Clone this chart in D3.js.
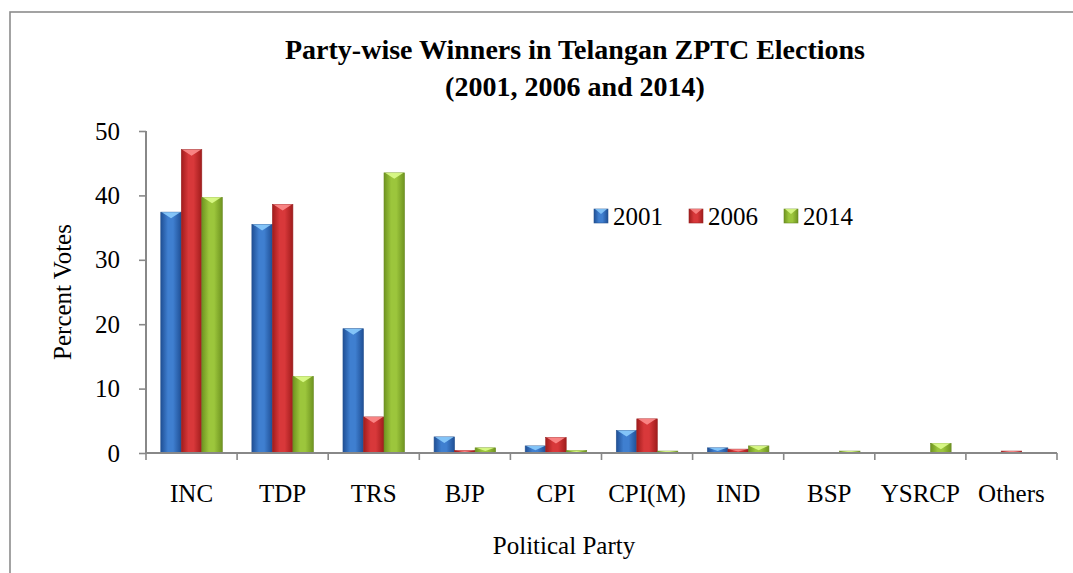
<!DOCTYPE html>
<html><head><meta charset="utf-8">
<script src="https://cdn.jsdelivr.net/npm/d3@7"></script>
<style>
html,body{margin:0;padding:0;background:#fff;}
</style></head>
<body>
<svg id="chart" width="1073" height="573"></svg>
<script>
const categories = ["INC","TDP","TRS","BJP","CPI","CPI(M)","IND","BSP","YSRCP","Others"];
const years = ["2001","2006","2014"];
const v2001 = [37.4, 35.5, 19.3, 2.5, 1.1, 3.5, 0.8, 0, 0, 0];
const v2006 = [47.1, 38.6, 5.6, 0.4, 2.4, 5.3, 0.6, 0, 0, 0.3];
const v2014 = [39.7, 11.9, 43.5, 0.8, 0.4, 0.3, 1.1, 0.3, 1.5, 0];
const yTicks = [0, 10, 20, 30, 40, 50];
const titleLines = ["Party-wise Winners in Telangan ZPTC Elections", "(2001, 2006 and 2014)"];

const FONT = "'Liberation Serif','Times New Roman','DejaVu Serif',serif";
const seriesValues = [v2001, v2006, v2014];
const colors = {
  "2001": {dark:"#1f4f95", mid:"#3f7fd0", top:"#8fd0ff", stroke:"#2a5590"},
  "2006": {dark:"#a01c1c", mid:"#d8383a", top:"#ff9090", stroke:"#9a2525"},
  "2014": {dark:"#6f9420", mid:"#9cc63c", top:"#e0ff90", stroke:"#6a8a25"}
};

const svg = d3.select("#chart");
const defs = svg.append("defs");
years.forEach(yr => {
  const c = colors[yr];
  const g = defs.append("linearGradient").attr("id","g"+yr).attr("x1","0").attr("x2","1").attr("y1","0").attr("y2","0");
  g.append("stop").attr("offset","0%").attr("stop-color",c.dark);
  g.append("stop").attr("offset","35%").attr("stop-color",c.mid);
  g.append("stop").attr("offset","60%").attr("stop-color",c.mid);
  g.append("stop").attr("offset","100%").attr("stop-color",c.dark);
});

// frame
svg.append("rect").attr("x",10).attr("y",12).attr("width",1100).attr("height",600)
  .attr("fill","none").attr("stroke","#8c8c8c").attr("stroke-width",1.6);

const plotLeft = 146, plotRight = 1057, plotTop = 131, plotBottom = 453;
const x0 = d3.scaleBand().domain(categories).range([plotLeft, plotRight]).padding(0);
const x1 = d3.scaleBand().domain(years).range([0, x0.bandwidth()]).paddingInner(0).paddingOuter(0.72);
const y = d3.scaleLinear().domain([0, 50]).range([plotBottom, plotTop]);

// title
svg.append("text").attr("x",575).attr("y",59).attr("text-anchor","middle")
  .style("font-size","28px").style("font-weight","bold").text(titleLines[0]);
svg.append("text").attr("x",575).attr("y",96).attr("text-anchor","middle")
  .style("font-size","28px").style("font-weight","bold").text(titleLines[1]);

// bars
const data = [];
categories.forEach((c,i) => years.forEach((yr,j) => data.push({cat:c, year:yr, v:seriesValues[j][i]})));
const bw = x1.bandwidth();
const bars = svg.append("g").selectAll("g").data(data.filter(d => d.v > 0)).join("g")
  .attr("transform", d => `translate(${x0(d.cat)+x1(d.year)},0)`);
bars.append("rect")
  .attr("x",0).attr("width",bw)
  .attr("y", d => y(d.v)).attr("height", d => y(0)-y(d.v))
  .attr("fill", d => `url(#g${d.year})`)
  .attr("stroke", d => colors[d.year].stroke).attr("stroke-width",0.6);
bars.append("path")
  .attr("d", d => {
    const t = y(d.v), h = y(0)-y(d.v), dep = Math.min(6, h*0.6);
    return `M1,${t} L${bw-1},${t} L${bw/2},${t+dep} Z`;
  })
  .attr("fill", d => colors[d.year].top).attr("opacity",0.85);

// axes
const axisColor = "#888";
const gx = svg.append("g").attr("transform",`translate(0,${plotBottom})`)
  .call(d3.axisBottom(x0).tickSize(0).tickPadding(0));
gx.select(".domain").attr("stroke",axisColor).attr("stroke-width",2).attr("d",`M${plotLeft},0H${plotRight}`);
gx.selectAll(".tick line").remove();
gx.selectAll(".tick text").attr("y",49).attr("dy",0).style("font-size","25px");
// category boundary ticks
svg.append("g").selectAll("line").data(categories.concat(["__end"])).join("line")
  .attr("x1", (d,i) => i < categories.length ? x0(d) : plotRight)
  .attr("x2", (d,i) => i < categories.length ? x0(d) : plotRight)
  .attr("y1", plotBottom).attr("y2", plotBottom+7)
  .attr("stroke",axisColor).attr("stroke-width",1.6);

const gy = svg.append("g").attr("transform",`translate(${plotLeft},0)`)
  .call(d3.axisLeft(y).tickValues(yTicks).tickSize(7).tickPadding(19).tickFormat(d3.format("d")));
gy.select(".domain").attr("stroke",axisColor).attr("stroke-width",2).attr("d",`M0,${plotTop}V${plotBottom}`);
gy.selectAll(".tick line").attr("stroke",axisColor).attr("stroke-width",1.6);
gy.selectAll(".tick text").style("font-size","25px");

// axis titles
svg.append("text").attr("transform","translate(71,292) rotate(-90)").attr("text-anchor","middle")
  .style("font-size","25px").text("Percent Votes");
svg.append("text").attr("x",564).attr("y",554).attr("text-anchor","middle")
  .style("font-size","25px").text("Political Party");

// legend
const legend = svg.append("g").selectAll("g").data(years).join("g")
  .attr("transform", (d,i) => `translate(${594 + i*95},209)`);
legend.append("rect").attr("width",14).attr("height",14)
  .attr("fill", d => `url(#g${d})`).attr("stroke", d => colors[d].stroke).attr("stroke-width",0.6);
legend.append("path").attr("d","M1,0 L13,0 L7,5 Z").attr("fill", d => colors[d].top).attr("opacity",0.8);
legend.append("text").attr("x",19).attr("y",16).style("font-size","25px").text(d => d);

svg.selectAll("text").style("font-family", FONT).attr("fill","#000");
</script>
</body></html>
